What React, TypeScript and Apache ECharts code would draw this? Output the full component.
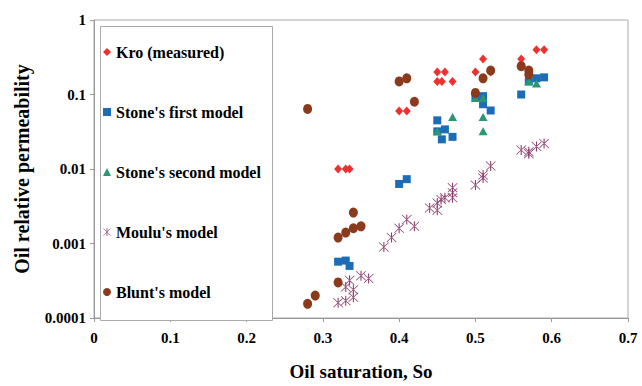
import React, { useEffect, useRef } from "react";
import * as echarts from "echarts";

const xTickLabels = ["0", "0.1", "0.2", "0.3", "0.4", "0.5", "0.6", "0.7"];
const yTickLabels = ["0.0001", "0.001", "0.01", "0.1", "1"];

const seriesNames = [
  "Kro (measured)",
  "Stone's first model",
  "Stone's second model",
  "Moulu's model",
  "Blunt's model",
];

const kroMeasured: [number, number][] = [
  [0.32, 0.01], [0.33, 0.01], [0.335, 0.01],
  [0.40, 0.06], [0.41, 0.06],
  [0.45, 0.2], [0.46, 0.2], [0.45, 0.15], [0.456, 0.15], [0.47, 0.15],
  [0.51, 0.3], [0.50, 0.2], [0.52, 0.2],
  [0.56, 0.3], [0.58, 0.4], [0.59, 0.4],
];

const stoneFirst: [number, number][] = [
  [0.32, 0.00057], [0.33, 0.00059], [0.335, 0.0005],
  [0.40, 0.0063], [0.41, 0.0073],
  [0.45, 0.045], [0.45, 0.032], [0.46, 0.034], [0.456, 0.025], [0.47, 0.027],
  [0.50, 0.092], [0.51, 0.095], [0.51, 0.074], [0.52, 0.061],
  [0.56, 0.1], [0.57, 0.15], [0.58, 0.165], [0.59, 0.17],
];

const stoneSecond: [number, number][] = [
  [0.45, 0.032], [0.47, 0.05],
  [0.50, 0.09], [0.51, 0.09], [0.51, 0.05], [0.51, 0.032],
  [0.57, 0.15], [0.58, 0.14],
];

const moulu: [number, number][] = [
  [0.32, 0.00016], [0.33, 0.00017], [0.335, 0.00032], [0.33, 0.00026],
  [0.34, 0.00024], [0.34, 0.00019], [0.35, 0.00037], [0.36, 0.00034],
  [0.38, 0.0009], [0.39, 0.0012], [0.40, 0.0016], [0.41, 0.0021], [0.42, 0.0017],
  [0.44, 0.003], [0.45, 0.0028], [0.45, 0.0035], [0.455, 0.0039], [0.46, 0.0041],
  [0.47, 0.0056], [0.47, 0.0041], [0.47, 0.0048],
  [0.50, 0.0061], [0.51, 0.0083], [0.51, 0.0076], [0.52, 0.011],
  [0.56, 0.018], [0.57, 0.016], [0.57, 0.017], [0.58, 0.02], [0.59, 0.022],
];

const blunt: [number, number][] = [
  [0.28, 0.064], [0.28, 0.000155], [0.29, 0.0002],
  [0.32, 0.0003], [0.32, 0.0012], [0.33, 0.0014], [0.34, 0.0016], [0.35, 0.0017], [0.34, 0.0026],
  [0.40, 0.15], [0.41, 0.165], [0.42, 0.08],
  [0.50, 0.105], [0.51, 0.165], [0.52, 0.21],
  [0.56, 0.24], [0.57, 0.21], [0.57, 0.185],
];

const ASTERISK =
  "path://M9,0L11,0L11,20L9,20Z" +
  "M1.5,0.5L0.5,1.5L18.5,19.5L19.5,18.5Z" +
  "M18.5,0.5L19.5,1.5L1.5,19.5L0.5,18.5Z";

const FONT = "'Liberation Serif', 'Times New Roman', serif";

export default function App() {
  const ref = useRef<HTMLDivElement>(null);
  useEffect(() => {
    if (!ref.current) return;
    const chart = echarts.init(ref.current, undefined, { renderer: "svg" });
    const colors = ["#ee3030", "#1c6db8", "#2b9672", "#8a3a6b", "#8b3a1c"];
    const symbols = ["diamond", "rect", "triangle", ASTERISK, "circle"];
    const sizes: any[] = [[8, 9], 8, [9, 8], 10, [9, 10]];
    const datasets = [kroMeasured, stoneFirst, stoneSecond, moulu, blunt];
    chart.setOption({
      animation: false,
      backgroundColor: "#ffffff",
      grid: {
        left: 94,
        right: 14,
        top: 20,
        bottom: 68,
        show: true,
        borderColor: "#aaaaaa",
        borderWidth: 1,
      },
      graphic: [
        {
          type: "rect",
          z: 5,
          shape: { x: 100.5, y: 26.5, width: 172, height: 294 },
          style: { fill: "#ffffff", stroke: "#aaaaaa", lineWidth: 1 },
        },
      ],
      legend: {
        orient: "vertical",
        left: 103,
        top: 44,
        z: 10,
        itemGap: 44,
        itemWidth: 8,
        itemHeight: 8,
        padding: 0,
        data: seriesNames.map((n, i) => ({ name: n, icon: symbols[i] })),
        textStyle: {
          fontFamily: FONT,
          fontWeight: "bold",
          fontSize: 16,
          color: "#000",
        },
      },
      xAxis: {
        type: "value",
        min: 0,
        max: 0.7,
        interval: 0.1,
        splitLine: { show: false },
        axisLine: { lineStyle: { color: "#999999" } },
        axisTick: { show: true, length: 4, lineStyle: { color: "#999999" } },
        axisLabel: {
          fontFamily: FONT,
          fontWeight: "bold",
          fontSize: 15,
          color: "#000",
          margin: 12,
          formatter: (v: number) => xTickLabels[Math.round(v * 10)] ?? "",
        },
        name: "Oil saturation, So",
        nameLocation: "middle",
        nameGap: 44,
        nameTextStyle: {
          fontFamily: FONT,
          fontWeight: "bold",
          fontSize: 19,
          color: "#000",
        },
      },
      yAxis: {
        type: "log",
        logBase: 10,
        min: 0.0001,
        max: 1,
        splitLine: { show: false },
        axisLine: { show: true, lineStyle: { color: "#999999" } },
        axisTick: { show: true, length: 4, lineStyle: { color: "#999999" } },
        axisLabel: {
          fontFamily: FONT,
          fontWeight: "bold",
          fontSize: 15,
          color: "#000",
          margin: 8,
          formatter: (v: number) =>
            yTickLabels[Math.round(Math.log10(v)) + 4] ?? "",
        },
        name: "Oil relative permeability",
        nameLocation: "middle",
        nameGap: 62,
        nameTextStyle: {
          fontFamily: FONT,
          fontWeight: "bold",
          fontSize: 20,
          color: "#000",
        },
      },
      series: datasets.map((d, i) => ({
        name: seriesNames[i],
        type: "scatter",
        data: d,
        symbol: symbols[i],
        symbolSize: sizes[i],
        z: 20 + i,
        itemStyle: { color: colors[i], opacity: 1 },
        emphasis: { disabled: true },
      })),
    });
    return () => chart.dispose();
  }, []);
  return (
    <div
      ref={ref}
      style={{ position: "fixed", left: 0, top: 0, width: 642, height: 386 }}
    />
  );
}
